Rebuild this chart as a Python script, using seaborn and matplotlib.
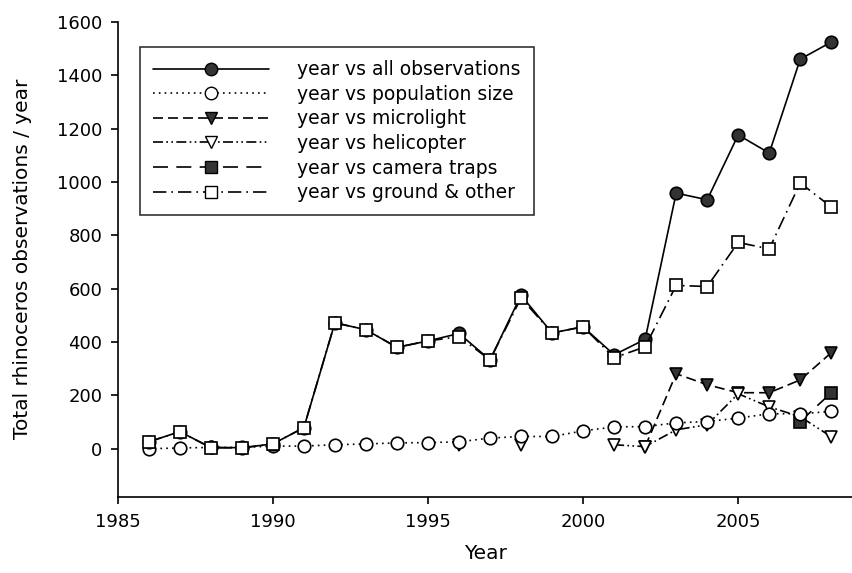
import numpy as np
import pandas as pd
import seaborn as sns
from matplotlib import pyplot as plt
from matplotlib.lines import Line2D

years = list(range(1986, 2009))
nan = np.nan

# values (NaN = no data that year)
all_obs = [26, 64, 5, 4, 18, 79, 472, 446, 380, 404, 432, 333, 575, 434, 457, 352,
           410, 958, 933, 1176, 1108, 1460, 1524]
population = [0, 3, 5, 5, 10, 10, 15, 18, 22, 23, 26, 40, 46, 46, 67, 82,
              83, 97, 102, 115, 131, 131, 140]
microlight = [nan] * 16 + [8, 281, 240, 210, 210, 258, 360]
helicopter = [nan] * 10 + [15, nan, 15, nan, nan, 15, 8, 71, 90, 206, 157, 120, 45]
camera = [nan] * 21 + [102, 210]
ground = [26, 64, 4, 3, 18, 79, 472, 446, 380, 404, 420, 333, 565, 434, 457, 341,
          382, 612, 608, 773, 749, 996, 906]

labels = ['year vs all observations', 'year vs population size', 'year vs microlight',
          'year vs helicopter', 'year vs camera traps', 'year vs ground & other']

sns.set_style("ticks")
plt.rcParams['font.family'] = ['DejaVu Sans']
plt.rcParams['text.color'] = 'black'
plt.rcParams['axes.labelcolor'] = 'black'

styles = [
    dict(dashes=None, marker='o', mfc='#333333'),
    dict(dashes=(1, 2.5), marker='o', mfc='white'),
    dict(dashes=(6, 3), marker='v', mfc='#333333'),
    dict(dashes=(6, 2, 1, 2, 1, 2), marker='v', mfc='white'),
    dict(dashes=(9, 5), marker='s', mfc='#333333'),
    dict(dashes=(8, 3, 1, 3), marker='s', mfc='white'),
]
series = [all_obs, population, microlight, helicopter, camera, ground]
order = [2, 3, 4, 1, 0, 5]  # drawing order, last on top

fig = plt.figure(figsize=(8.53, 5.73), dpi=100)
ax = fig.add_axes([0.138, 0.133, 0.862, 0.829])


def draw(vals, st, z):
    df = pd.DataFrame({'year': years, 'v': vals})
    run = df['v'].isna().cumsum()
    for _, part in df.dropna().groupby(run[df['v'].notna()]):
        kw = dict(color='black', lw=1.2, marker=st['marker'], markersize=9,
                  markerfacecolor=st['mfc'], markeredgecolor='black', markeredgewidth=1.2,
                  zorder=z)
        if st['dashes'] is not None and len(part) > 1:
            kw['dashes'] = st['dashes']
        sns.lineplot(data=part, x='year', y='v', ax=ax, **kw)


for z, i in enumerate(order):
    draw(series[i], styles[i], 3 + z)

handles = []
for st, lab in zip(styles, labels):
    h = Line2D([], [], color='black', lw=1.2, marker=st['marker'], markersize=9,
               markerfacecolor=st['mfc'], markeredgecolor='black', label=lab)
    if st['dashes'] is not None:
        h.set_dashes(st['dashes'])
    handles.append(h)
leg = ax.legend(handles=handles, loc='upper left', bbox_to_anchor=(0.03, 0.947),
                fontsize=13.5, handlelength=6.2, handletextpad=1.5, labelspacing=0.3,
                frameon=True, fancybox=False, borderpad=0.7, borderaxespad=0)
leg.get_frame().set_edgecolor('black')
leg.get_frame().set_linewidth(1.2)

ax.set_xlim(1985, 2008.7)
ax.set_ylim(-180, 1600)
ax.set_xticks(range(1985, 2006, 5))
ax.set_yticks(range(0, 1601, 200))
ax.tick_params(labelsize=13, length=5, width=1.2, direction='out', colors='black')
ax.tick_params(axis='x', pad=7)
ax.tick_params(axis='y', pad=6)
for s in ['left', 'bottom']:
    ax.spines[s].set_linewidth(1.2)
    ax.spines[s].set_color('black')
sns.despine(ax=ax)
ax.set_xlabel('Year', fontsize=14.5, labelpad=9)
ax.set_ylabel('Total rhinoceros observations / year', fontsize=14.5, labelpad=18)

fig.savefig('out.png', dpi=100)
